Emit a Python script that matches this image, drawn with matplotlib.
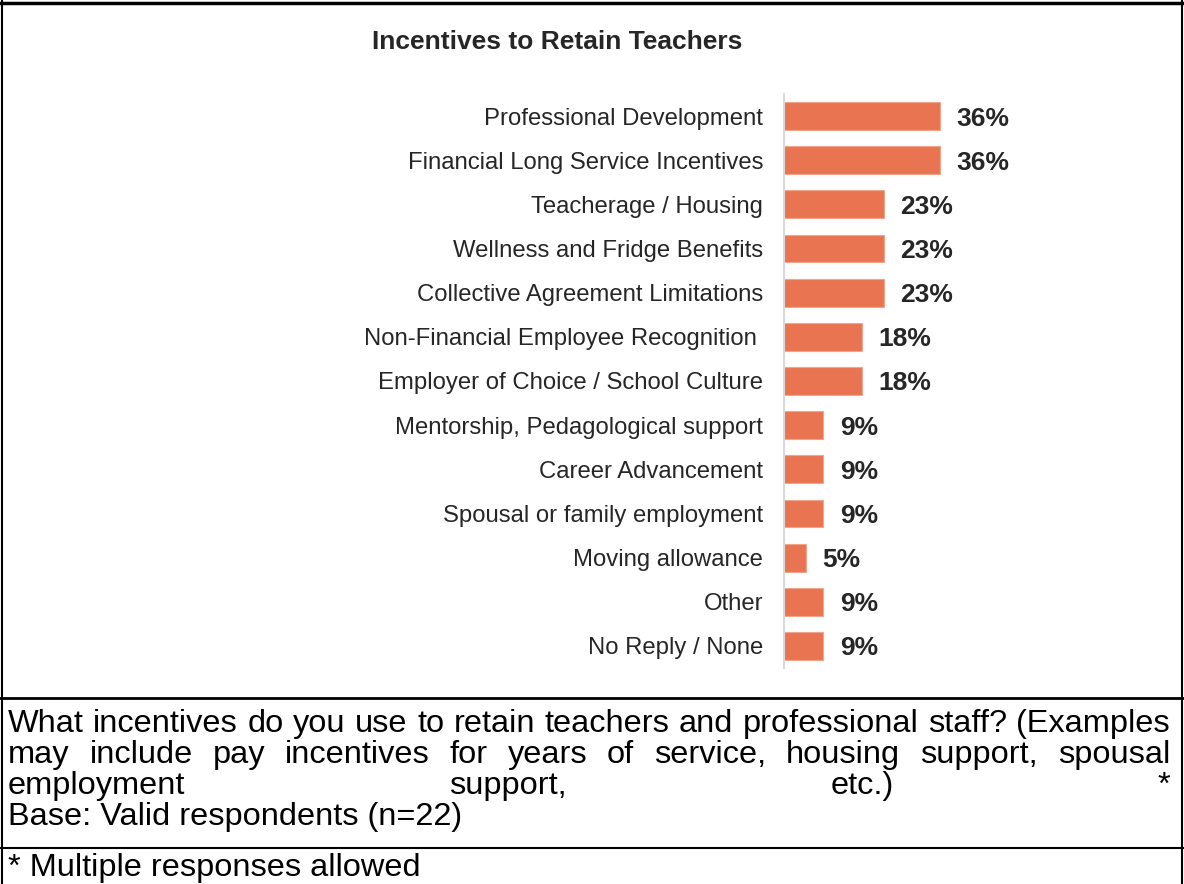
import matplotlib
matplotlib.use("Agg")
import matplotlib.pyplot as plt
from matplotlib.lines import Line2D

plt.rcParams['font.family'] = ['Liberation Sans', 'DejaVu Sans']

categories = [
    "Professional Development",
    "Financial Long Service Incentives",
    "Teacherage / Housing",
    "Wellness and Fridge Benefits",
    "Collective Agreement Limitations",
    "Non-Financial Employee Recognition ",
    "Employer of Choice / School Culture",
    "Mentorship, Pedagological support",
    "Career Advancement",
    "Spousal or family employment",
    "Moving allowance",
    "Other",
    "No Reply / None",
]
values = [36, 36, 23, 23, 23, 18, 18, 9, 9, 9, 5, 9, 9]

title = "Incentives to Retain Teachers"
question_lines = [
    "What incentives do you use to retain teachers and professional staff? (Examples",
    "may include pay incentives for years of service, housing support, spousal",
    "employment support, etc.) *",
]
base_note = "Base: Valid respondents (n=22)"
footnote = "* Multiple responses allowed"

W, H = 1184, 884
BAR_COLOR = "#E97451"
TEXT_COLOR = "#262626"

fig = plt.figure(figsize=(W / 100, H / 100), dpi=100)
fig.patch.set_facecolor("white")

def px(x, y):
    return x / W, 1 - y / H

# Bar chart axes
ax_left, ax_top, ax_bottom = 784, 94, 668
ax_right = 1100
ax = fig.add_axes([ax_left / W, 1 - ax_bottom / H, (ax_right - ax_left) / W, (ax_bottom - ax_top) / H])
ypos = list(range(len(categories)))
ax.barh(ypos, values, height=0.63, color=BAR_COLOR, edgecolor="#F3A58C", linewidth=0.8)
ax.set_ylim(len(categories) - 0.5, -0.5)
ax.set_xlim(0, (ax_right - ax_left) / 4.333)
for s in ["top", "right", "bottom"]:
    ax.spines[s].set_visible(False)
ax.spines["left"].set_color("#D9D9D9")
ax.spines["left"].set_linewidth(1.5)
ax.set_xticks([])
ax.set_yticks(ypos)
ax.set_yticklabels(categories, fontsize=17.2, color=TEXT_COLOR)
ax.tick_params(axis="y", length=0, pad=15)
for y, v in zip(ypos, values):
    ax.annotate(f"{v}%", xy=(v, y), xytext=(12, 0), textcoords="offset points",
                ha="left", va="center_baseline", fontsize=19, fontweight="bold",
                color=TEXT_COLOR)

fig.text(*px(557, 42), title, ha="center", va="center", fontsize=19,
         fontweight="bold", color=TEXT_COLOR)

# Frame and table rules
def hline(y, lw=2.5, x0=0, x1=W):
    fig.add_artist(Line2D([x0 / W, x1 / W], [1 - y / H, 1 - y / H], color="black", lw=lw))

def vline(x, y0, y1, lw=1.5):
    fig.add_artist(Line2D([x / W, x / W], [1 - y0 / H, 1 - y1 / H], color="black", lw=lw))

hline(3, lw=2.5)
hline(698, lw=2.0)
hline(848, lw=1.5)
vline(2, 0, H, lw=1.5)
vline(1182, 0, H, lw=1.5)

# Justified question text
FS = 23.4
fig.canvas.draw()
renderer = fig.canvas.get_renderer()

def word_width(word):
    t = fig.text(0, 0, word, fontsize=FS)
    w = t.get_window_extent(renderer=renderer).width
    t.remove()
    return w

x_l, x_r = 8, 1170
line_y = [724, 755, 786]
for text_line, yy in zip(question_lines, line_y):
    words = text_line.split()
    widths = [word_width(w) for w in words]
    gap = (x_r - x_l - sum(widths)) / (len(words) - 1)
    x = x_l
    for w, wd in zip(words, widths):
        fig.text(x / W, 1 - yy / H, w, fontsize=FS, color="black", ha="left", va="center")
        x += wd + gap

fig.text(x_l / W, 1 - 817 / H, base_note, fontsize=FS, color="black", ha="left", va="center")
fig.text(x_l / W, 1 - 868 / H, footnote, fontsize=FS, color="black", ha="left", va="center")

fig.savefig("out.png", dpi=100, facecolor="white")
